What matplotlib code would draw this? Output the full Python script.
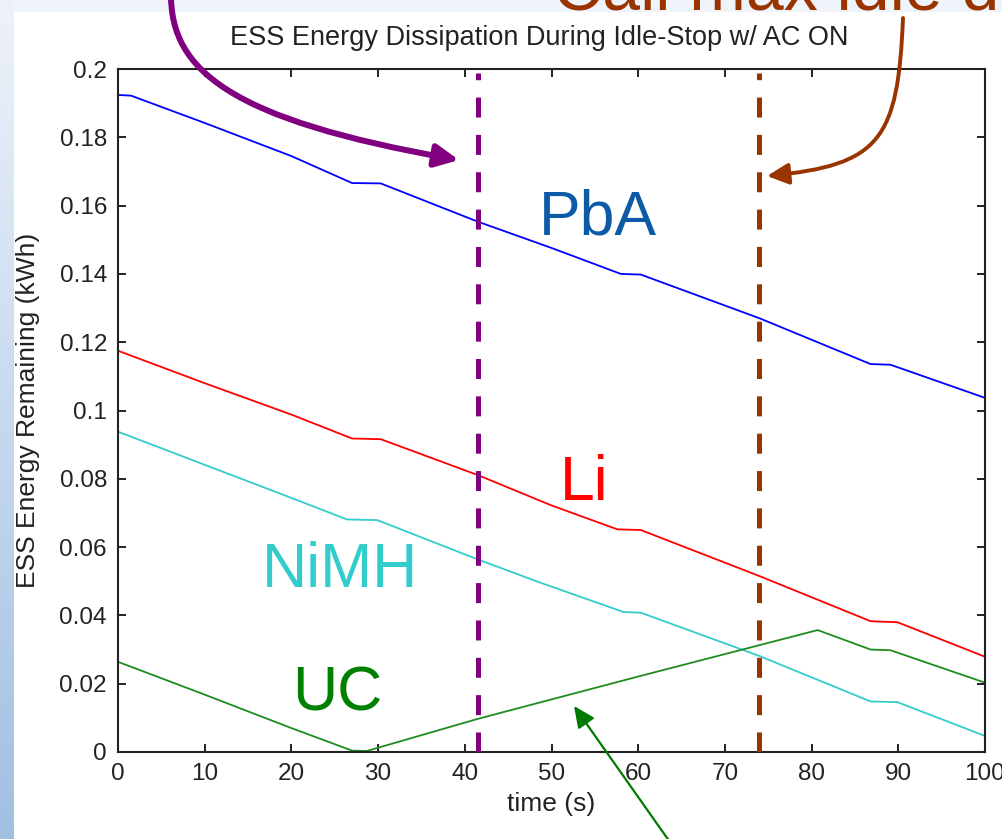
import numpy as np
import matplotlib
matplotlib.use('Agg')
from matplotlib import pyplot as plt
from matplotlib.patches import FancyArrowPatch, ArrowStyle
from matplotlib.path import Path

plt.rcParams['font.family'] = ['Liberation Sans', 'DejaVu Sans']

W, H = 1002, 839

# energy remaining (kWh) vs time (s)
pba_t = [0, 1.5, 10, 20, 27, 30.3, 41.5, 50, 58, 60.3, 74, 86.8, 89.1, 100]
pba_kwh = [0.1924, 0.1922, 0.1842, 0.1745, 0.1666, 0.1665, 0.1553, 0.1476,
           0.1400, 0.1398, 0.1270, 0.1136, 0.1134, 0.1037]

li_t = [0, 10, 20, 27, 30.3, 41.5, 50, 57.6, 60.3, 74, 86.8, 89.9, 100]
li_kwh = [0.1175, 0.1080, 0.0988, 0.0918, 0.0916, 0.0811, 0.0722, 0.0652,
          0.0650, 0.0515, 0.0383, 0.0380, 0.0279]

nimh_t = [0, 10, 20, 26.4, 29.9, 41.5, 48.7, 58.3, 60.3, 74, 86.8, 89.9, 100]
nimh_kwh = [0.0938, 0.0841, 0.0744, 0.0681, 0.0679, 0.0564, 0.0496, 0.0410,
            0.0408, 0.0281, 0.0148, 0.0146, 0.0047]

uc_t = [0, 10, 20, 27, 28.7, 41.5, 50, 60, 74, 80.7, 86.8, 89.1, 100]
uc_kwh = [0.0264, 0.0168, 0.0070, 0.0004, 0.0003, 0.0097, 0.0154, 0.0221,
          0.0313, 0.0357, 0.0300, 0.0298, 0.0203]

idle_marks = [41.5, 73.9]
idle_colors = ['#800080', '#993300']

xticks = [0, 10, 20, 30, 40, 50, 60, 70, 80, 90, 100]
yticks = [0, 0.02, 0.04, 0.06, 0.08, 0.1, 0.12, 0.14, 0.16, 0.18, 0.2]
ytick_labels = ['0', '0.02', '0.04', '0.06', '0.08', '0.1', '0.12', '0.14',
                '0.16', '0.18', '0.2']


def px(x, y):
    # image pixel (top-left origin) -> figure fraction
    return x / W, 1 - y / H


fig = plt.figure(figsize=(W / 100, H / 100), dpi=100)

# slide background: pale top band and blue gradient strip on the left
bg = np.ones((H, W, 3))
bg[:12, :] = [0.94, 0.96, 0.985]
top_c = np.array([0.93, 0.95, 0.98])
bot_c = np.array([0.63, 0.75, 0.89])
grad = np.linspace(0, 1, H)[:, None, None]
bg[:, :14] = top_c + (bot_c - top_c) * grad
bax = fig.add_axes([0, 0, 1, 1], zorder=-1)
bax.imshow(bg, aspect='auto', interpolation='bilinear')
bax.axis('off')

ax = fig.add_axes([118 / W, 1 - 752 / H, 867 / W, 683 / H])
ax.plot(pba_t, pba_kwh, color='#0000FF', lw=1.3)
ax.plot(li_t, li_kwh, color='#FF0000', lw=1.3)
ax.plot(nimh_t, nimh_kwh, color='#33CCCC', lw=1.3)
ax.plot(uc_t, uc_kwh, color='#1E8C1E', lw=1.3)

for _t, _c in zip(idle_marks, idle_colors):
    ax.plot([_t, _t], [0, 0.1988], color=_c, lw=3.6, dashes=(4.0, 3.47),
            solid_capstyle='butt', dash_capstyle='butt', zorder=3)

ax.set_xlim(0, 100)
ax.set_ylim(0, 0.2)
ax.set_xticks(xticks)
ax.set_xticklabels([str(v) for v in xticks])
ax.set_yticks(yticks)
ax.set_yticklabels(ytick_labels)
ax.tick_params(direction='in', length=6, width=1.4, top=True, right=True,
               labelsize=17.5, pad=8, colors='#222222')
for sp in ax.spines.values():
    sp.set_linewidth(1.5)
    sp.set_color('#222222')

ax.set_title('ESS Energy Dissipation During Idle-Stop w/ AC ON', fontsize=19.5,
             pad=17, color='#222222', x=0.486)
ax.set_xlabel('time (s)', fontsize=19, color='#222222', labelpad=5)
ax.set_ylabel('ESS Energy Remaining (kWh)', fontsize=19, color='#222222',
              labelpad=14)

ax.text(55.3, 0.1514, 'PbA', color='#0D5BA6', fontsize=45, ha='center', va='baseline')
ax.text(53.8, 0.0738, 'Li', color='#FF0000', fontsize=45, ha='center', va='baseline')
ax.text(25.6, 0.0484, 'NiMH', color='#33CCCC', fontsize=45, ha='center', va='baseline')
ax.text(25.3, 0.0121, 'UC', color='#008000', fontsize=45, ha='center', va='baseline')

fig.text(*px(553, 10), 'Call max idle d', color='#993300', fontsize=49,
         ha='left', va='baseline')

# callout arrows
purple = FancyArrowPatch(
    path=Path([px(171, -5), px(171, 70), px(230, 120), px(459, 160)],
              [Path.MOVETO, Path.CURVE4, Path.CURVE4, Path.CURVE4]),
    arrowstyle=ArrowStyle('-|>', head_length=0.7, head_width=0.34),
    mutation_scale=20, lw=4.3, color='#800080', transform=fig.transFigure)
brown = FancyArrowPatch(
    path=Path([px(903, 18), px(898, 140), px(880, 165), px(767, 176)],
              [Path.MOVETO, Path.CURVE4, Path.CURVE4, Path.CURVE4]),
    arrowstyle=ArrowStyle('-|>', head_length=0.65, head_width=0.32),
    mutation_scale=20, lw=2.8, color='#993300', transform=fig.transFigure)
green = FancyArrowPatch(
    path=Path([px(672, 845), px(574, 706)], [Path.MOVETO, Path.LINETO]),
    arrowstyle=ArrowStyle('-|>', head_length=0.65, head_width=0.3),
    mutation_scale=20, lw=1.6, color='#007A00', transform=fig.transFigure)
for _a in (purple, brown, green):
    fig.add_artist(_a)

fig.savefig('out.png', dpi=100)
